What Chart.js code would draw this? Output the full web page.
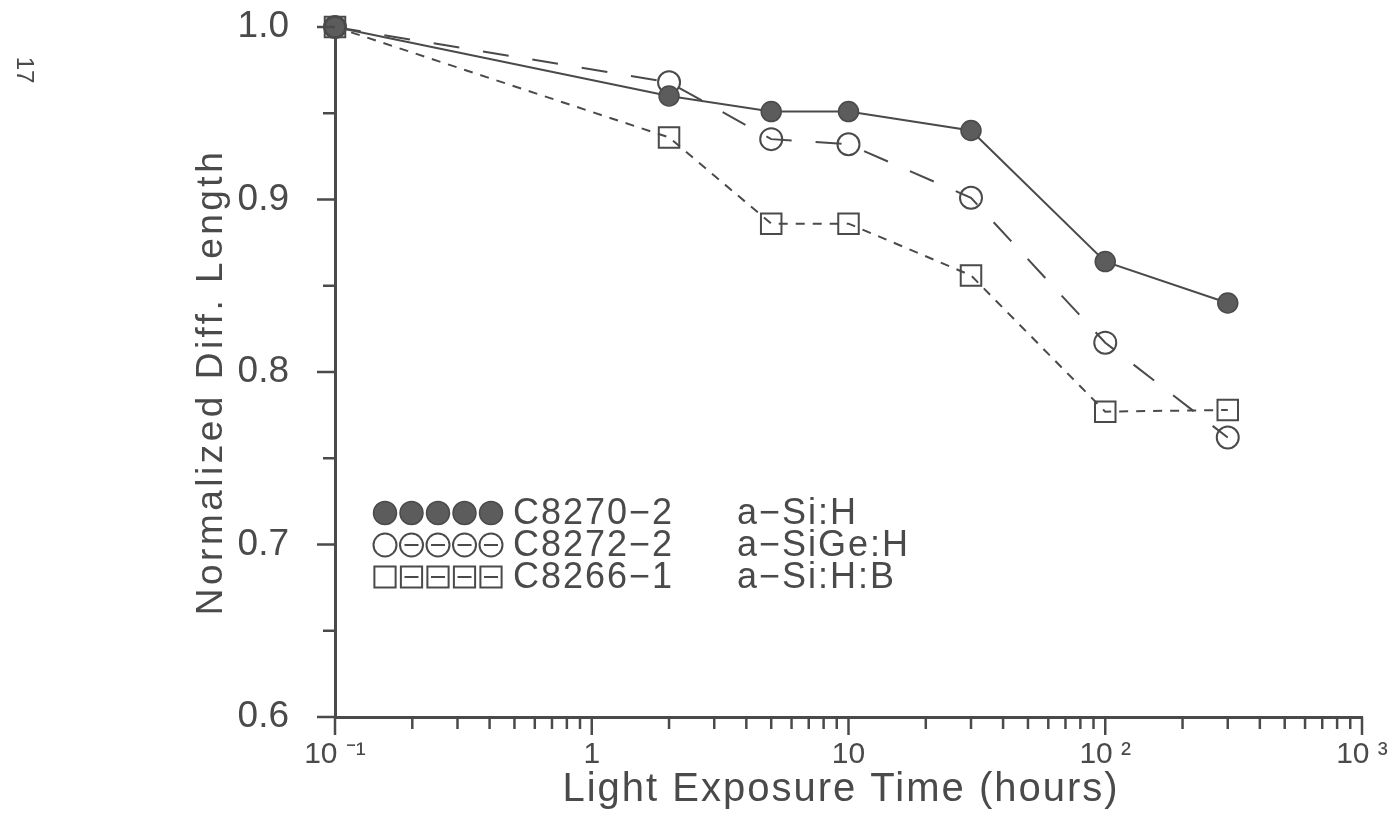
<!DOCTYPE html>
<html>
<head>
<meta charset="utf-8">
<script src="https://cdn.jsdelivr.net/npm/chart.js@4.4.1/dist/chart.umd.min.js"></script>
<style>
  html, body { margin: 0; padding: 0; background: #fff; }
</style>
</head>
<body>
<canvas id="chart" width="1399" height="816"></canvas>
<script>
// values
const hours = [0.1, 2, 5, 10, 30, 100, 300];
const siH   = [1.0, 0.960, 0.951, 0.951, 0.940, 0.864, 0.840];
const siGeH = [1.0, 0.968, 0.935, 0.932, 0.901, 0.817, 0.762];
const siHB  = [1.0, 0.936, 0.886, 0.886, 0.856, 0.777, 0.778];
const sampleIds = ['C8270\u22122', 'C8272\u22122', 'C8266\u22121'];
const materials = ['a\u2212Si:H', 'a\u2212SiGe:H', 'a\u2212Si:H:B'];

const xMajor = [0.1, 1, 10, 100, 1000];
const xMajorLabels = ['10 \u207B\u00B9', '1', '10', '10 \u00B2', '10 \u00B3'];
const yMajor = [0.6, 0.7, 0.8, 0.9, 1.0];
const yMajorLabels = ['0.6', '0.7', '0.8', '0.9', '1.0'];
const xTitle = 'Light Exposure Time (hours)';
const yTitle = 'Normalized Diff. Length';

const ink = '#4a4a4a';
const sans = '"Liberation Sans", Arial, sans-serif';

function pts(ys) {
    return hours.map((h, i) => ({ x: h, y: ys[i] }));
}
function near(a, b) {
    return Math.abs(a - b) < Math.abs(b) * 1e-6 + 1e-9;
}

// ticks with two lengths, axis titles, the legend with five symbols a row
const plotMarks = {
    id: 'plotMarks',
    afterDraw(chart) {
        const ctx = chart.ctx;
        const area = chart.chartArea;
        const xs = chart.scales.x, ys = chart.scales.y;
        ctx.save();
        ctx.strokeStyle = ink;
        ctx.lineWidth = 2.5;
        xs.ticks.forEach(t => {
            const px = xs.getPixelForValue(t.value);
            const len = t.major ? 18 : 12;
            ctx.beginPath();
            ctx.moveTo(px, area.bottom);
            ctx.lineTo(px, area.bottom + len);
            ctx.stroke();
        });
        ys.ticks.forEach(t => {
            const py = ys.getPixelForValue(t.value);
            const len = t.major ? 18 : 12;
            ctx.beginPath();
            ctx.moveTo(area.left - len, py);
            ctx.lineTo(area.left, py);
            ctx.stroke();
        });

        // axis titles
        ctx.fillStyle = ink;
        ctx.textAlign = 'center';
        ctx.textBaseline = 'alphabetic';
        ctx.font = '40px ' + sans;
        ctx.letterSpacing = '2px';
        ctx.fillText(xTitle, 841, 801);
        ctx.save();
        ctx.translate(222, 382);
        ctx.rotate(-Math.PI / 2);
        ctx.font = '37px ' + sans;
        ctx.letterSpacing = '3.5px';
        ctx.fillText(yTitle, 0, 0);
        ctx.restore();
        ctx.letterSpacing = '0px';

        // stray page number in the scan margin
        ctx.save();
        ctx.translate(24, 70);
        ctx.rotate(Math.PI / 2);
        ctx.textBaseline = 'middle';
        ctx.font = '24px ' + sans;
        ctx.fillText('17', 0, 0);
        ctx.restore();

        // legend
        ctx.textBaseline = 'middle';
        chart.data.datasets.forEach((ds, i) => {
            const y = 513 + 32 * i;
            for (let k = 0; k < 5; k++) {
                const x = 385 + 26.5 * k;
                ctx.fillStyle = ds.pointBackgroundColor;
                ctx.strokeStyle = ds.pointBorderColor;
                ctx.lineWidth = ds.pointBorderWidth;
                Chart.helpers.drawPoint(ctx, {
                    pointStyle: ds.pointStyle,
                    radius: ds.pointStyle === 'rect' ? 15 : 11.5,
                    rotation: 0,
                    borderWidth: ds.pointBorderWidth
                }, x, y);
                if (k > 0 && i > 0) {
                    ctx.beginPath();
                    ctx.moveTo(x - 7, y);
                    ctx.lineTo(x + 7, y);
                    ctx.stroke();
                }
            }
            ctx.fillStyle = ink;
            ctx.textAlign = 'left';
            ctx.font = '36px ' + sans;
            ctx.letterSpacing = '2px';
            ctx.fillText(sampleIds[i], 513, y + 1);
            ctx.fillText(materials[i], 737, y + 1);
            ctx.letterSpacing = '0px';
        });
        ctx.restore();
    }
};

new Chart(document.getElementById('chart').getContext('2d'), {
    type: 'line',
    data: {
        datasets: [{
            label: sampleIds[0] + ' ' + materials[0],
            data: pts(siH),
            borderColor: ink,
            borderWidth: 2,
            pointStyle: 'circle',
            pointRadius: 10,
            pointBackgroundColor: '#5c5c5c',
            pointBorderColor: ink,
            pointBorderWidth: 1.5,
        }, {
            label: sampleIds[1] + ' ' + materials[1],
            data: pts(siGeH),
            borderColor: ink,
            borderWidth: 2,
            borderDash: [26, 24],
            pointStyle: 'circle',
            pointRadius: 11,
            pointBackgroundColor: 'rgba(0,0,0,0)',
            pointBorderColor: ink,
            pointBorderWidth: 2,
        }, {
            label: sampleIds[2] + ' ' + materials[2],
            data: pts(siHB),
            borderColor: ink,
            borderWidth: 2,
            borderDash: [9, 8],
            pointStyle: 'rect',
            pointRadius: 14.5,
            pointBackgroundColor: 'rgba(0,0,0,0)',
            pointBorderColor: ink,
            pointBorderWidth: 2,
        }]
    },
    options: {
        responsive: false,
        animation: false,
        devicePixelRatio: 1,
        clip: false,
        layout: { padding: { top: 27, right: 37, left: 0, bottom: 0 } },
        plugins: {
            legend: { display: false },
            tooltip: { enabled: false }
        },
        scales: {
            x: {
                type: 'logarithmic',
                position: 'bottom',
                min: 0.1,
                max: 1000,
                grid: { display: false },
                border: { display: true, color: ink, width: 3 },
                afterBuildTicks: scale => {
                    const ticks = [];
                    for (let e = -1; e < 3; e++) {
                        for (let k = 1; k < 10; k++) {
                            const v = parseFloat((k * Math.pow(10, e)).toPrecision(6));
                            ticks.push({ value: v, major: k === 1 });
                        }
                    }
                    ticks.push({ value: 1000, major: true });
                    scale.ticks = ticks;
                },
                afterFit: scale => {
                    scale.height = 99;
                    scale.paddingLeft = 0;
                    scale.paddingRight = 0;
                },
                ticks: {
                    autoSkip: false,
                    maxRotation: 0,
                    padding: 12,
                    color: ink,
                    font: { family: sans, size: 30 },
                    callback: value => {
                        const i = xMajor.findIndex(m => near(value, m));
                        return i >= 0 ? xMajorLabels[i] : '';
                    }
                }
            },
            y: {
                type: 'linear',
                position: 'left',
                min: 0.6,
                max: 1.0,
                grid: { display: false },
                border: { display: true, color: ink, width: 3 },
                afterBuildTicks: scale => {
                    const ticks = [];
                    for (let i = 0; i < yMajor.length; i++) {
                        ticks.push({ value: yMajor[i], major: true });
                        if (i < yMajor.length - 1) {
                            ticks.push({ value: parseFloat(((yMajor[i] + yMajor[i + 1]) / 2).toFixed(3)), major: false });
                        }
                    }
                    scale.ticks = ticks;
                },
                afterFit: scale => {
                    scale.width = 335;
                    scale.paddingTop = 0;
                    scale.paddingBottom = 0;
                },
                ticks: {
                    padding: 38,
                    color: ink,
                    font: { family: sans, size: 37 },
                    callback: value => {
                        const i = yMajor.findIndex(m => near(value, m));
                        return i >= 0 ? yMajorLabels[i] : '';
                    }
                }
            }
        }
    },
    plugins: [plotMarks]
});
</script>
</body>
</html>
